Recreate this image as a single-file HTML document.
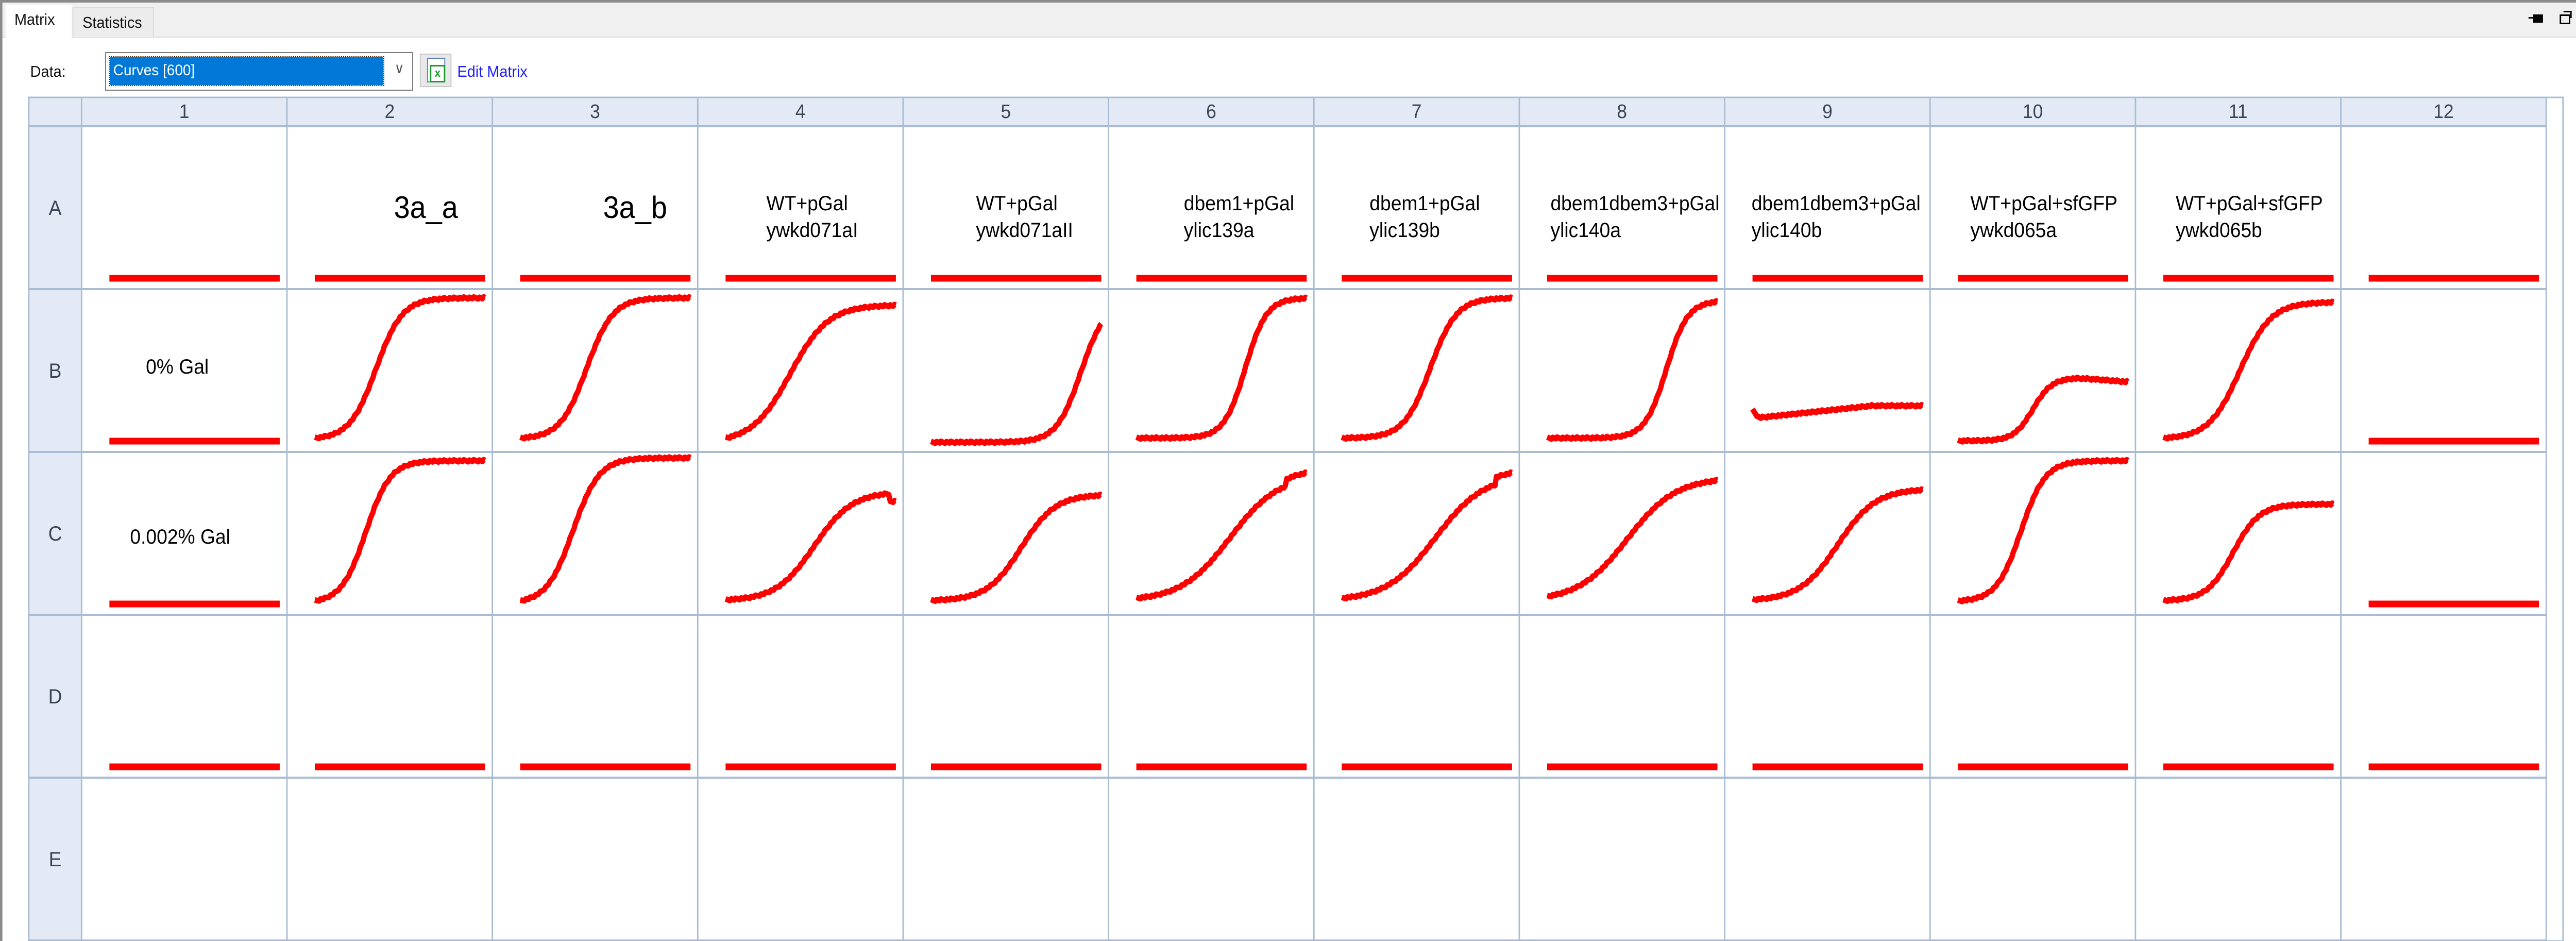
<!DOCTYPE html>
<html style="margin:0;padding:0;overflow:hidden"><head><meta charset="utf-8"><style>
html,body{margin:0;padding:0;overflow:hidden;background:#fff;}
#w{position:absolute;left:0;top:0;width:5369px;height:1826px;overflow:hidden;transform-origin:0 0;font-family:"Liberation Sans","DejaVu Sans",sans-serif;}
.a{position:absolute;white-space:nowrap;}
svg{position:absolute;left:0;top:0;display:block;}
</style></head><body>
<div id="w">
<div class="a" style="left:0;top:0;width:5369px;height:5px;background:#8a8a8a"></div>
<div class="a" style="left:0;top:5px;width:5369px;height:66px;background:#f0f0f0;border-bottom:2px solid #dcdcdc"></div>
<div class="a" style="left:0;top:0;width:5px;height:1826px;background:#8a8a8a"></div>
<div class="a" style="left:12px;top:9px;width:137px;height:64px;background:#fff"></div>
<div class="a" style="left:151px;top:14px;width:166px;height:56px;background:#ececec;border:2px solid #dadada;border-bottom:none"></div>
<div class="a" style="left:30px;top:20px;font-size:31px;color:#111">Matrix</div>
<div class="a" style="left:172px;top:26px;font-size:31px;color:#111">Statistics</div>
<div class="a" style="left:5280px;top:28px;width:14px;height:10px;border:3px solid #000;background:#000"></div>
<div class="a" style="left:5270px;top:33px;width:12px;height:3px;background:#000"></div>
<div class="a" style="left:5335px;top:28px;width:16px;height:13px;border:3px solid #000"></div>
<div class="a" style="left:5343px;top:21px;width:14px;height:11px;border:3px solid #000;border-bottom:none;border-left:none"></div>
<div class="a" style="left:63px;top:121px;font-size:31px;color:#111">Data:</div>
<div class="a" style="left:219px;top:101px;width:638px;height:71px;border:2px solid #7a7a7a;background:#fff"></div>
<div class="a" style="left:229px;top:111px;width:570px;height:54px;background:#0078d7;outline:2px dotted #402000"></div>
<div class="a" style="left:236px;top:120px;font-size:30px;color:#fff">Curves [600]</div>
<div class="a" style="left:822px;top:116px;font-size:28px;color:#555">∨</div>
<div class="a" style="left:875px;top:104px;width:62px;height:61px;background:#e8e8e8;border:2px solid #c8c8c8"></div>
<div class="a" style="left:890px;top:112px;width:34px;height:44px;background:#fff;border:2px solid #5a7fc0"></div>
<div class="a" style="left:896px;top:126px;width:26px;height:28px;border:3px solid #1b9a2e;color:#1b9a2e;font-size:22px;font-weight:bold;text-align:center;line-height:26px;background:#fff">x</div>
<div class="a" style="left:953px;top:121px;font-size:31px;color:#1a1aff">Edit Matrix</div>
<svg id="s" width="5369" height="1826" viewBox="0 0 5369 1826"></svg>
</div>
<script>
(function(){var w=document.getElementById('w');var sx=window.innerWidth/5369,sy=window.innerHeight/1826;
if(sx>0&&sy>0&&(Math.abs(sx-1)>0.001||Math.abs(sy-1)>0.001))w.style.transform='scale('+sx+','+sy+')';})();
var NS="http://www.w3.org/2000/svg",s=document.getElementById('s');
function el(n,a){var e=document.createElementNS(NS,n);for(var k in a)e.setAttribute(k,a[k]);s.appendChild(e);return e;}
var X0=60,HC=170,W=428.08,Y0=189,HR=245,RH=316;
el('rect',{x:X0,y:Y0,width:5342-X0,height:1826-Y0,fill:'#fff',stroke:'#a9bcd3','stroke-width':3});
el('rect',{x:X0,y:Y0,width:HC-X0,height:1826-Y0,fill:'#e3eaf5'});
el('rect',{x:X0,y:Y0,width:5307-X0,height:HR-Y0,fill:'#e3eaf5'});
for(var c=0;c<=12;c++){var x=HC+c*W;el('line',{x1:x,y1:Y0,x2:x,y2:1826,stroke:'#a9bcd3','stroke-width':3});}
el('line',{x1:X0,y1:Y0,x2:X0,y2:1826,stroke:'#a9bcd3','stroke-width':3});
el('line',{x1:5342,y1:Y0,x2:5342,y2:1826,stroke:'#a9bcd3','stroke-width':3});
for(var r=0;r<=5;r++){var y=HR+r*RH;el('line',{x1:X0,y1:y,x2:5307,y2:y,stroke:'#a9bcd3','stroke-width':4});}
el('line',{x1:X0,y1:Y0,x2:5342,y2:Y0,stroke:'#a9bcd3','stroke-width':3});
function t(x,y,str,sz,col,anc){var e=el('text',{x:x,y:y,'font-size':sz,fill:col||'#000','font-family':'Liberation Sans, DejaVu Sans, sans-serif','text-anchor':anc||'start'});e.textContent=str;}
for(var c=0;c<12;c++)t(HC+c*W+W/2,229,String(c+1),38,'#3a4656','middle');
"ABCDE".split('').forEach(function(L,i){t(115,HR+i*RH+172,L,40,'#3a4656','middle');});
t(821,423,'3a_a',60);t(1257,423,'3a_b',60);
var lab=[[4,143,'WT+pGal','ywkd071aI'],[5,152,'WT+pGal','ywkd071aII'],[6,157,'dbem1+pGal','ylic139a'],[7,116,'dbem1+pGal','ylic139b'],[8,65,'dbem1dbem3+pGal','ylic140a'],[9,56,'dbem1dbem3+pGal','ylic140b'],[10,84,'WT+pGal+sfGFP','ywkd065a'],[11,84,'WT+pGal+sfGFP','ywkd065b']];
lab.forEach(function(a){var x=HC+(a[0]-1)*W+a[1];t(x,408,a[2],40);t(x,460,a[3],40);});
t(304,725,'0% Gal',40);t(271,1055,'0.002% Gal',40);
function flat(c,r){var L=HC+(c-1)*W,T=HR+r*RH;el('line',{x1:L+58,y1:T+295,x2:L+413,y2:T+295,stroke:'#ff0000','stroke-width':13});}
function curve(c,r,m,k,top,lo,fn){var L=HC+(c-1)*W,T=HR+r*RH,p=[];
 for(var i=0;i<=120;i++){var u=i/120,v;
  if(fn)v=fn(u);else{var s0=1/(1+Math.exp(k*m));v=lo+(top-lo)*(1/(1+Math.exp(-k*(u-m)))-s0)/(1-s0);}
  var jit=((i*37)%7-3)*0.6;
  p.push((L+58+u*355).toFixed(1)+','+(T+289-v*272+jit).toFixed(1));}
 el('polyline',{points:p.join(' '),fill:'none',stroke:'#ff0000','stroke-width':11,'stroke-linejoin':'round'});}
for(var c=1;c<=12;c++){flat(c,0);flat(c,3);}
flat(1,1);flat(12,1);flat(1,2);flat(12,2);
curve(2,1,0.36,13,1.0,0);
curve(3,1,0.39,13,1.0,0);
curve(4,1,0.38,9,0.95,0);
curve(5,1,0,0,0,0,function(u){return -0.03+1.0/(1+Math.exp(-14*(u-0.88)));});
curve(6,1,0.64,16,1.0,0);
curve(7,1,0.52,13,1.0,0);
curve(8,1,0.70,16,0.98,0);
curve(9,1,0,0,0,0,function(u){return u<0.04?0.2-u*1.5:0.14+0.09*Math.min(1,u/0.7);});
curve(10,1,0,0,0,0,function(u){return -0.02+0.45/(1+Math.exp(-18*(u-0.44)))-0.03*Math.max(0,u-0.7)/0.3;});
curve(11,1,0.45,11,0.97,0);
curve(2,2,0.30,14,1.0,0);
curve(3,2,0.31,13,1.02,0);
curve(4,2,0,0,0,0,function(u){return 0.78/(1+Math.exp(-9*(u-0.52)))-(u>0.96?0.06:0);});
curve(5,2,0,0,0,0,function(u){return 0.76/(1+Math.exp(-10*(u-0.53)));});
curve(6,2,0,0,0,0,function(u){return 0.9/(1+Math.exp(-7*(u-0.55)))+(u>0.88?0.05:0);});
curve(7,2,0,0,0,0,function(u){return 0.9/(1+Math.exp(-7*(u-0.55)))+(u>0.9?0.05:0);});
curve(8,2,0,0,0,0,function(u){return 0.88/(1+Math.exp(-7*(u-0.47)));});
curve(9,2,0,0,0,0,function(u){return 0.8/(1+Math.exp(-9*(u-0.5)));});
curve(10,2,0.37,14,1.0,0);
curve(11,2,0,0,0,0,function(u){return 0.69/(1+Math.exp(-13*(u-0.41)));});
</script>
</body></html>
